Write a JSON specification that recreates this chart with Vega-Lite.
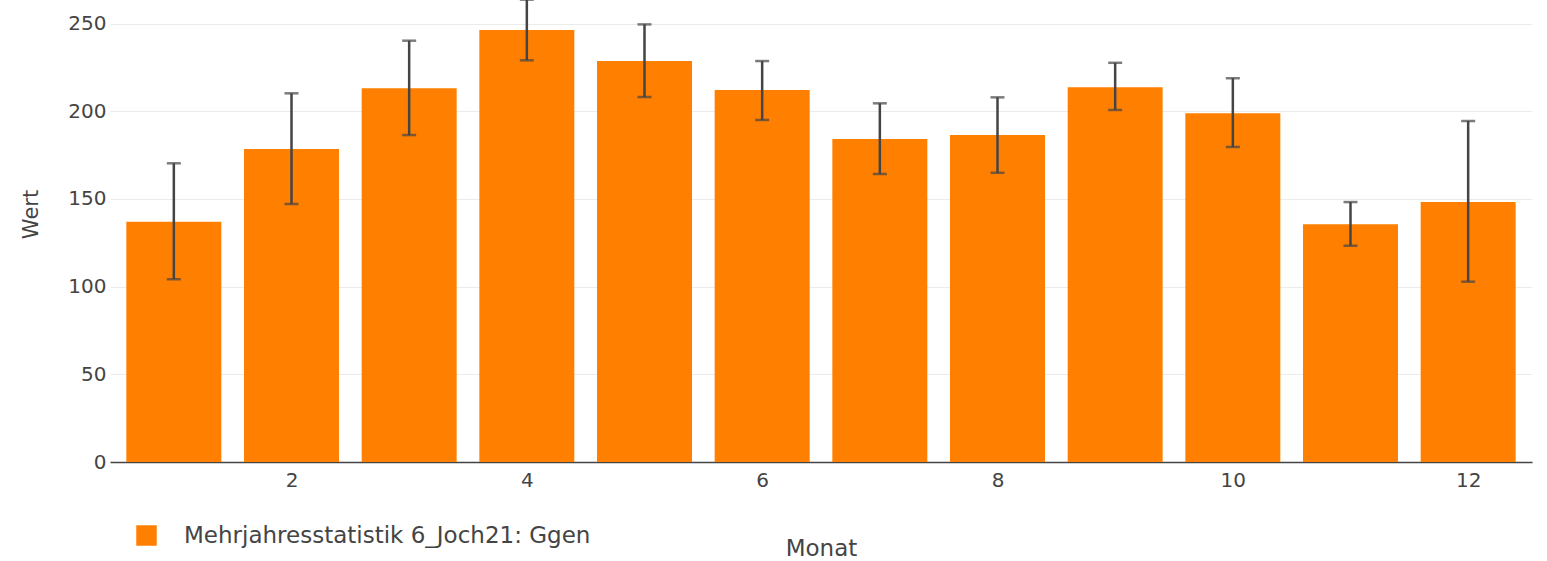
{
  "$schema": "https://vega.github.io/schema/vega-lite/v6.json",
  "autosize": {"type": "none"},
  "padding": {"left": 110, "top": 0, "right": 15, "bottom": 99},
  "width": 1422,
  "height": 462,
  "background": "white",
  "config": {
    "font": "DejaVu Sans",
    "view": {"stroke": null},
    "axis": {"labelColor": "#444", "titleColor": "#444", "labelFont": "DejaVu Sans", "titleFont": "DejaVu Sans", "titleFontWeight": "normal"},
    "legend": {"labelColor": "#444", "labelFont": "DejaVu Sans"}
  },
  "data": {
    "values": [
      {"Monat": 1, "Wert": 137.0, "lo": 104.2, "hi": 170.3, "Serie": "Mehrjahresstatistik 6_Joch21: Ggen"},
      {"Monat": 2, "Wert": 178.5, "lo": 147.1, "hi": 210.2, "Serie": "Mehrjahresstatistik 6_Joch21: Ggen"},
      {"Monat": 3, "Wert": 213.1, "lo": 186.4, "hi": 240.2, "Serie": "Mehrjahresstatistik 6_Joch21: Ggen"},
      {"Monat": 4, "Wert": 246.3, "lo": 229.0, "hi": 263.6, "Serie": "Mehrjahresstatistik 6_Joch21: Ggen"},
      {"Monat": 5, "Wert": 228.6, "lo": 208.1, "hi": 249.5, "Serie": "Mehrjahresstatistik 6_Joch21: Ggen"},
      {"Monat": 6, "Wert": 212.1, "lo": 195.0, "hi": 228.6, "Serie": "Mehrjahresstatistik 6_Joch21: Ggen"},
      {"Monat": 7, "Wert": 184.2, "lo": 164.2, "hi": 204.5, "Serie": "Mehrjahresstatistik 6_Joch21: Ggen"},
      {"Monat": 8, "Wert": 186.4, "lo": 164.9, "hi": 207.9, "Serie": "Mehrjahresstatistik 6_Joch21: Ggen"},
      {"Monat": 9, "Wert": 213.6, "lo": 200.7, "hi": 227.6, "Serie": "Mehrjahresstatistik 6_Joch21: Ggen"},
      {"Monat": 10, "Wert": 198.8, "lo": 179.6, "hi": 218.8, "Serie": "Mehrjahresstatistik 6_Joch21: Ggen"},
      {"Monat": 11, "Wert": 135.5, "lo": 123.3, "hi": 148.2, "Serie": "Mehrjahresstatistik 6_Joch21: Ggen"},
      {"Monat": 12, "Wert": 148.2, "lo": 102.8, "hi": 194.4, "Serie": "Mehrjahresstatistik 6_Joch21: Ggen"}
    ]
  },
  "layer": [
    {
      "mark": {"type": "bar", "width": 95, "orient": "vertical"},
      "encoding": {
        "x": {
          "field": "Monat", "type": "quantitative",
          "scale": {"domain": [0.5, 12.5], "nice": false, "zero": false},
          "axis": {
            "values": [2, 4, 6, 8, 10, 12], "format": "d",
            "ticks": false, "grid": false,
            "domainColor": "#444", "domainWidth": 1.5,
            "labelFontSize": 20, "labelPadding": 8,
            "title": "Monat", "titleFontSize": 23,
            "titleY": 93, "titleBaseline": "alphabetic"
          }
        },
        "y": {
          "field": "Wert", "type": "quantitative", "stack": null,
          "title": "Wert",
          "scale": {"domain": [0, 263.4], "nice": false},
          "axis": {
            "values": [0, 50, 100, 150, 200, 250],
            "ticks": false, "domain": false,
            "gridColor": "#ebebeb", "gridWidth": 1,
            "labelFontSize": 20, "labelPadding": 4,
            "titleFontSize": 21,
            "titleAngle": -90, "titleX": -79, "titleY": 214,
            "titleAlign": "center", "titleBaseline": "middle"
          }
        },
        "color": {
          "field": "Serie", "type": "nominal",
          "scale": {"range": ["#ff8000"]},
          "legend": {
            "title": null, "orient": "none",
            "legendX": 25, "legendY": 524,
            "symbolType": "square", "symbolSize": 420,
            "symbolStrokeWidth": 0, "symbolOpacity": 1,
            "labelFontSize": 23, "labelOffset": 26, "labelLimit": 0
          }
        }
      }
    },
    {
      "mark": {
        "type": "errorbar", "orient": "vertical", "color": "#444",
        "ticks": {"size": 14, "thickness": 2.5, "color": "#444"},
        "rule": {"strokeWidth": 2.5, "color": "#444"}
      },
      "encoding": {
        "x": {"field": "Monat", "type": "quantitative"},
        "y": {"field": "lo", "type": "quantitative", "title": "Wert"},
        "y2": {"field": "hi"}
      }
    }
  ]
}
